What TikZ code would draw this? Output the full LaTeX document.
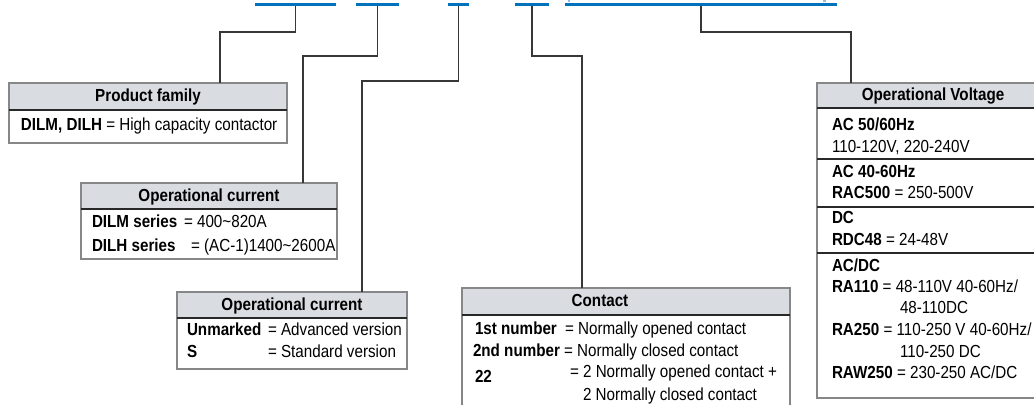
\documentclass[tikz,border=0pt]{standalone}
\usepackage{fontspec}
\setmainfont{Liberation Sans}[FakeStretch=0.87]
\usetikzlibrary{fit,calc}
\definecolor{ebl}{RGB}{0,114,188}
\definecolor{lbl}{RGB}{140,190,230}
\definecolor{hgray}{RGB}{217,221,226}
\definecolor{bgray}{RGB}{135,135,135}
\definecolor{cgray}{RGB}{55,55,55}
\definecolor{sgray}{RGB}{40,40,40}
\newcommand{\fsz}{\fontsize{13.1pt}{15pt}\selectfont}
\begin{document}
\begin{tikzpicture}[x=0.75pt,y=-0.75pt,
  bar/.style={fill=ebl, draw=none, inner sep=0pt, outer sep=0pt},
  hdr/.style={fill=hgray, draw=bgray, line width=0.8pt, inner sep=0pt, outer sep=0pt},
  bodyb/.style={draw=bgray, line width=0.8pt, fill=white, inner sep=0pt, outer sep=0pt},
  conn/.style={draw=cgray, line width=1.2pt},
  sepl/.style={draw=sgray, line width=0.8pt},
  txt/.style={font=\fsz, inner sep=0pt, outer sep=0pt, anchor=base west},
  htxt/.style={font=\fsz\bfseries, inner sep=0pt, outer sep=0pt, anchor=base}]
\useasboundingbox (0,0) rectangle (1034,404);
\clip (0,0) rectangle (1034,404);

% blue code bars
\node[bar, fit={(255,3) (336,6)}] (b1) {};
\node[bar, fit={(356,3) (399,6)}] (b2) {};
\node[bar, fit={(448,3) (469,6)}] (b3) {};
\node[bar, fit={(515,3) (549,6)}] (b4) {};
\node[bar, fit={(565,3) (837,6)}] (b5) {};
\node[fill=lbl, inner sep=0pt, fit={(568,0) (570,1.5)}] (m1) {};
\node[fill=lbl, inner sep=0pt, fit={(823,0) (826,1.5)}] (m2) {};

% box 1: Product family
\node[bodyb, fit={(9,110) (287,143)}] (p1) {};
\node[hdr, fit={(9,83) (287,110)}] (h1) {};
\draw[sepl] (h1.south west) -- (h1.south east);
\node[htxt] (t1) at ($(h1.center)+(0,5)$) {Product family};
\node[txt] (l1a) at (21,130) {\textbf{DILM, DILH} = High capacity contactor};

% box 2: Operational current
\node[bodyb, fit={(81,209) (337,259)}] (p2) {};
\node[hdr, fit={(81,183) (337,209)}] (h2) {};
\draw[sepl] (h2.south west) -- (h2.south east);
\node[htxt] (t2) at ($(h2.center)+(0,5)$) {Operational current};
\node[txt] (l2a) at (92,227) {\textbf{DILM series}};
\node[txt] (r2a) at (184,227) {= 400\textasciitilde 820A};
\node[txt] (l2b) at (92,251) {\textbf{DILH series}};
\node[txt] (r2b) at (191,251) {= (AC-1)1400\textasciitilde 2600A};

% box 3: Operational current (version)
\node[bodyb, fit={(177,318) (407,369)}] (p3) {};
\node[hdr, fit={(177,292) (407,318)}] (h3) {};
\draw[sepl] (h3.south west) -- (h3.south east);
\node[htxt] (t3) at ($(h3.center)+(0,5)$) {Operational current};
\node[txt] (l3a) at (187,335) {\textbf{Unmarked}};
\node[txt] (r3a) at (268,335) {= Advanced version};
\node[txt] (l3b) at (187,357) {\textbf{S}};
\node[txt] (r3b) at (268,357) {= Standard version};

% box 4: Contact
\node[bodyb, fit={(462,315) (790,420)}] (p4) {};
\node[hdr, fit={(462,288) (790,315)}] (h4) {};
\draw[sepl] (h4.south west) -- (h4.south east);
\node[htxt] (t4) at (600,306) {Contact};
\node[txt] (l4a) at (475,334) {\textbf{1st number}};
\node[txt] (r4a) at (565,334) {= Normally opened contact};
\node[txt] (l4b) at (473,356) {\textbf{2nd number}};
\node[txt] (r4b) at (564,356) {= Normally closed contact};
\node[txt] (l4c) at (475,382) {\textbf{22}};
\node[txt] (r4c) at (570,377) {= 2 Normally opened contact +};
\node[txt] (r4d) at (583,400) {2 Normally closed contact};

% box 5: Operational Voltage
\node[bodyb, fit={(817,108) (1049,398)}] (p5) {};
\node[hdr, fit={(817,83) (1049,108)}] (h5) {};
\draw[sepl] (h5.south west) -- (h5.south east);
\node[htxt] (t5) at ($(h5.center)+(0,5)$) {Operational Voltage};
\draw[sepl] ($(p5.north west)+(0,51)$) -- ($(p5.north east)+(0,51)$);
\draw[sepl] ($(p5.north west)+(0,99)$) -- ($(p5.north east)+(0,99)$);
\draw[sepl] ($(p5.north west)+(0,145)$) -- ($(p5.north east)+(0,145)$);
\node[txt] (v1) at (832,130) {\textbf{AC 50/60Hz}};
\node[txt] (v2) at (832,152) {110-120V, 220-240V};
\node[txt] (v3) at (832,177) {\textbf{AC 40-60Hz}};
\node[txt] (v4) at (832,198) {\textbf{RAC500} = 250-500V};
\node[txt] (v5) at (832,223) {\textbf{DC}};
\node[txt] (v6) at (832,245) {\textbf{RDC48} = 24-48V};
\node[txt] (v7) at (832,271) {\textbf{AC/DC}};
\node[txt] (v8) at (832,292) {\textbf{RA110} = 48-110V 40-60Hz/};
\node[txt] (v9) at (900,313) {48-110DC};
\node[txt] (v10) at (832,335) {\textbf{RA250} = 110-250 V 40-60Hz/};
\node[txt] (v11) at (900,357) {110-250 DC};
\node[txt] (v12) at (832,378) {\textbf{RAW250} = 230-250 AC/DC};

% connectors
\draw[conn] (b1.south) -- ++(0,26) -| ($(h1.north west)+(211,0)$);
\draw[conn] (b2.south) -- ++(0,50) -| ($(h2.north west)+(222,0)$);
\draw[conn] (b3.south) -- ++(0,75) -| ($(h3.north west)+(185,0)$);
\draw[conn] (b4.south) -- ++(0,50) -| ($(h4.north west)+(120,0)$);
\draw[conn] (b5.south) -- ++(0,26) -| ($(h5.north west)+(34,0)$);
\end{tikzpicture}
\end{document}
